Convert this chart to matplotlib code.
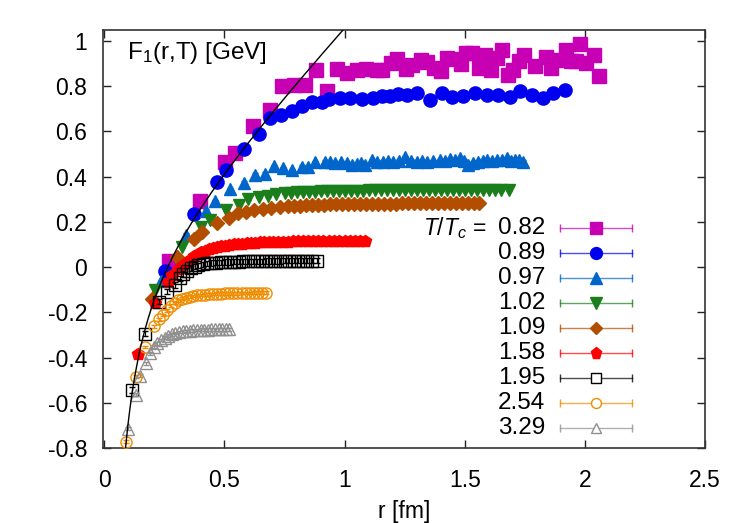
import matplotlib
matplotlib.use("Agg")
import matplotlib.pyplot as plt
import numpy as np
from matplotlib.ticker import FormatStrFormatter

plt.rcParams['font.family'] = ['Liberation Sans', 'DejaVu Sans']
plt.rcParams['mathtext.fontset'] = 'custom'
plt.rcParams['mathtext.rm'] = 'Liberation Sans'
plt.rcParams['mathtext.it'] = 'Liberation Sans:italic'
plt.rcParams['mathtext.default'] = 'regular'

# ---------------- data ----------------
T_labels = ['0.82', '0.89', '0.97', '1.02', '1.09', '1.58', '1.95', '2.54', '3.29']

# T/Tc = 0.82  (r [fm], F1 [GeV]) with errors
r_082 = [0.269, 0.400, 0.504, 0.545, 0.619, 0.690, 0.741, 0.789, 0.835, 0.881,
         0.925, 0.967, 1.008, 1.050, 1.091, 1.133, 1.157, 1.192, 1.220, 1.255,
         1.282, 1.317, 1.345, 1.372, 1.400, 1.428, 1.456, 1.483, 1.504, 1.532,
         1.559, 1.583, 1.608, 1.633, 1.657, 1.680, 1.703, 1.726, 1.747, 1.791,
         1.837, 1.858, 1.878, 1.920, 1.941, 1.962, 1.980, 2.004, 2.038, 2.059]
F_082 = [0.025, 0.290, 0.462, 0.503, 0.621, 0.694, 0.798, 0.805, 0.805, 0.869,
         0.779, 0.874, 0.859, 0.871, 0.874, 0.871, 0.871, 0.901, 0.919, 0.875,
         0.894, 0.913, 0.904, 0.879, 0.868, 0.923, 0.919, 0.898, 0.945, 0.945,
         0.879, 0.938, 0.871, 0.923, 0.957, 0.849, 0.871, 0.908, 0.938, 0.886,
         0.927, 0.879, 0.915, 0.960, 0.908, 0.908, 0.986, 0.901, 0.938, 0.842]
E_082 = [0.006, 0.006, 0.008, 0.008, 0.008, 0.010, 0.010, 0.010, 0.010, 0.020,
         0.020, 0.012, 0.015, 0.012, 0.015, 0.012, 0.012, 0.015, 0.020, 0.015,
         0.012, 0.015, 0.020, 0.015, 0.012, 0.015, 0.020, 0.020, 0.015, 0.015,
         0.020, 0.015, 0.015, 0.020, 0.015, 0.015, 0.015, 0.020, 0.020, 0.020,
         0.015, 0.020, 0.015, 0.020, 0.015, 0.020, 0.020, 0.015, 0.020, 0.025]

# T/Tc = 0.89
r_089 = [0.251, 0.375, 0.469, 0.508, 0.580, 0.645, 0.690, 0.735, 0.780, 0.822,
         0.863, 0.905, 0.936, 0.981, 1.022, 1.071, 1.120, 1.154, 1.189, 1.224,
         1.258, 1.300, 1.355, 1.404, 1.446, 1.494, 1.543, 1.591, 1.640, 1.688,
         1.730, 1.779, 1.827, 1.869, 1.917]
F_089 = [-0.015, 0.234, 0.378, 0.427, 0.521, 0.588, 0.658, 0.672, 0.690, 0.712,
         0.727, 0.731, 0.742, 0.746, 0.746, 0.743, 0.746, 0.757, 0.757, 0.765,
         0.761, 0.771, 0.739, 0.768, 0.751, 0.757, 0.771, 0.761, 0.761, 0.751,
         0.776, 0.761, 0.746, 0.768, 0.783]

# T/Tc = 0.97
pts_097 = [(0.234, -0.063), (0.338, 0.143), (0.425, 0.250), (0.462, 0.290),
           (0.524, 0.344), (0.582, 0.373), (0.626, 0.408), (0.667, 0.413),
           (0.705, 0.445), (0.743, 0.437), (0.780, 0.427), (0.822, 0.444),
           (0.849, 0.444), (0.877, 0.462), (0.918, 0.466), (0.939, 0.462),
           (0.960, 0.459), (0.985, 0.464), (1.009, 0.459), (1.030, 0.452),
           (1.050, 0.456), (1.068, 0.458), (1.085, 0.452), (1.113, 0.471),
           (1.137, 0.466), (1.161, 0.466), (1.182, 0.468), (1.203, 0.462),
           (1.227, 0.470), (1.251, 0.486), (1.276, 0.470), (1.300, 0.466),
           (1.321, 0.468), (1.342, 0.462), (1.370, 0.468), (1.397, 0.471),
           (1.418, 0.470), (1.439, 0.477), (1.460, 0.474), (1.480, 0.481),
           (1.498, 0.470), (1.515, 0.452), (1.536, 0.461), (1.556, 0.466),
           (1.574, 0.470), (1.591, 0.474), (1.612, 0.468), (1.633, 0.471),
           (1.654, 0.474), (1.675, 0.481), (1.692, 0.470), (1.709, 0.474),
           (1.727, 0.472), (1.744, 0.466)]

# T/Tc = 1.02
pts_102 = [(0.213, -0.100), (0.325, 0.090), (0.403, 0.177), (0.439, 0.209),
           (0.508, 0.253), (0.559, 0.275), (0.600, 0.300), (0.642, 0.309),
           (0.680, 0.315), (0.715, 0.322), (0.752, 0.327), (0.775, 0.328),
           (0.800, 0.330), (0.825, 0.331), (0.850, 0.332), (0.875, 0.333),
           (0.900, 0.334), (0.925, 0.335), (0.950, 0.335), (0.975, 0.336),
           (1.000, 0.337), (1.025, 0.337), (1.050, 0.338), (1.075, 0.338),
           (1.100, 0.339), (1.125, 0.339), (1.150, 0.340), (1.175, 0.340),
           (1.200, 0.340), (1.225, 0.341), (1.250, 0.341), (1.275, 0.341),
           (1.300, 0.341), (1.325, 0.341), (1.350, 0.342), (1.375, 0.341),
           (1.400, 0.342), (1.425, 0.342), (1.450, 0.341), (1.475, 0.342),
           (1.500, 0.342), (1.525, 0.342), (1.550, 0.341), (1.575, 0.342),
           (1.600, 0.342), (1.625, 0.342), (1.650, 0.342), (1.685, 0.342)]

# T/Tc = 1.09
pts_109 = [(0.200, -0.141), (0.304, 0.044), (0.372, 0.124), (0.407, 0.157),
           (0.469, 0.197), (0.517, 0.216), (0.555, 0.238), (0.590, 0.245),
           (0.625, 0.252), (0.660, 0.258), (0.695, 0.262), (0.730, 0.265),
           (0.765, 0.268), (0.790, 0.270), (0.815, 0.272), (0.840, 0.273),
           (0.865, 0.274), (0.890, 0.275), (0.915, 0.276), (0.940, 0.277),
           (0.965, 0.277), (0.990, 0.278), (1.015, 0.278), (1.040, 0.279),
           (1.065, 0.279), (1.090, 0.279), (1.115, 0.280), (1.140, 0.280),
           (1.165, 0.280), (1.190, 0.280), (1.215, 0.280), (1.240, 0.281),
           (1.265, 0.281), (1.290, 0.281), (1.315, 0.281), (1.340, 0.281),
           (1.365, 0.281), (1.390, 0.281), (1.415, 0.281), (1.440, 0.281),
           (1.465, 0.281), (1.490, 0.281), (1.515, 0.281), (1.540, 0.281),
           (1.561, 0.281)]

# T/Tc = 1.58
pts_158 = [(0.142, -0.384), (0.211, -0.160), (0.264, -0.064), (0.283, -0.034),
           (0.312, -0.010), (0.329, 0.010), (0.345, 0.024), (0.359, 0.036),
           (0.374, 0.048), (0.389, 0.058), (0.404, 0.066), (0.420, 0.072),
           (0.437, 0.078), (0.453, 0.084), (0.470, 0.088), (0.487, 0.092),
           (0.504, 0.095), (0.521, 0.098), (0.538, 0.100), (0.556, 0.102),
           (0.574, 0.104), (0.592, 0.106), (0.610, 0.107), (0.628, 0.108),
           (0.647, 0.109), (0.666, 0.110), (0.685, 0.111), (0.704, 0.111),
           (0.724, 0.112), (0.744, 0.113), (0.764, 0.113), (0.784, 0.114),
           (0.805, 0.114), (0.826, 0.114), (0.847, 0.115), (0.868, 0.115),
           (0.890, 0.115), (0.912, 0.116), (0.934, 0.116), (0.956, 0.116),
           (0.978, 0.116), (1.000, 0.117), (1.022, 0.117), (1.044, 0.117),
           (1.066, 0.117), (1.084, 0.117)]

# T/Tc = 1.95
pts_195 = [(0.117, -0.542), (0.169, -0.294), (0.227, -0.152), (0.262, -0.108),
           (0.296, -0.078), (0.315, -0.050), (0.329, -0.030), (0.345, -0.016),
           (0.360, -0.006), (0.376, 0.002), (0.392, 0.008), (0.410, 0.012),
           (0.428, 0.016), (0.446, 0.018), (0.465, 0.020), (0.484, 0.021),
           (0.503, 0.022), (0.522, 0.023), (0.541, 0.024), (0.560, 0.024),
           (0.579, 0.025), (0.598, 0.025), (0.617, 0.026), (0.636, 0.026),
           (0.655, 0.026), (0.674, 0.027), (0.693, 0.027), (0.712, 0.027),
           (0.731, 0.027), (0.750, 0.028), (0.769, 0.028), (0.788, 0.028),
           (0.807, 0.028), (0.826, 0.028), (0.845, 0.028), (0.864, 0.028),
           (0.884, 0.028)]

# T/Tc = 2.54
pts_254 = [(0.092, -0.770), (0.133, -0.483), (0.169, -0.353), (0.206, -0.262),
           (0.227, -0.230), (0.246, -0.211), (0.262, -0.190), (0.278, -0.170),
           (0.293, -0.157), (0.308, -0.147), (0.323, -0.140), (0.339, -0.135),
           (0.355, -0.131), (0.371, -0.128), (0.387, -0.125), (0.403, -0.123),
           (0.419, -0.121), (0.435, -0.120), (0.452, -0.119), (0.469, -0.118),
           (0.486, -0.117), (0.503, -0.116), (0.520, -0.116), (0.537, -0.115),
           (0.554, -0.115), (0.571, -0.114), (0.588, -0.114), (0.605, -0.114),
           (0.622, -0.113), (0.639, -0.113), (0.656, -0.113), (0.672, -0.113)]

# T/Tc = 3.29
pts_329 = [(0.100, -0.714), (0.131, -0.564), (0.150, -0.480), (0.172, -0.424),
           (0.190, -0.380), (0.206, -0.352), (0.221, -0.336), (0.236, -0.322),
           (0.251, -0.311), (0.266, -0.302), (0.281, -0.296), (0.296, -0.291),
           (0.311, -0.287), (0.326, -0.284), (0.341, -0.282), (0.356, -0.280),
           (0.371, -0.279), (0.386, -0.278), (0.401, -0.277), (0.416, -0.276),
           (0.431, -0.276), (0.446, -0.275), (0.461, -0.275), (0.476, -0.275),
           (0.491, -0.274), (0.506, -0.274), (0.521, -0.274)]

# symmetric error sizes for the denser series
errs = [None, 0.006, 0.006, 0.005, 0.005, 0.005, 0.012, 0.006, 0.006]

# Cornell-type T=0 potential curve parameters
CORNELL_A = 0.080      # GeV fm
CORNELL_SIGMA = 1.13   # GeV / fm
CORNELL_C = 0.005      # GeV

x_ticks = [0, 0.5, 1, 1.5, 2, 2.5]
y_ticks = [-0.8, -0.6, -0.4, -0.2, 0, 0.2, 0.4, 0.6, 0.8, 1]

# ---------------- style ----------------
colors = ['#c800b4', '#0000f0', '#0066cc', '#1a7f1a', '#b34d00',
          '#ff0000', '#000000', '#f08c00', '#909090']
markers = ['s', 'o', '^', 'v', 'D', 'p', 's', 'o', '^']
msizes = [9.5, 9.5, 9.0, 9.0, 7.0, 9.0, 8.0, 8.0, 8.5]
filled = [True, True, True, True, True, True, False, False, False]
FS = 16.5

W, H = 747, 523
fig = plt.figure(figsize=(W / 100, H / 100), dpi=100)
ax_l, ax_r, ax_t, ax_b = 102.5, 705.0, 30.0, 448.3
ax = fig.add_axes([ax_l / W, 1 - ax_b / H, (ax_r - ax_l) / W, (ax_b - ax_t) / H])

series = [(r_082, F_082, E_082)]
series.append((r_089, F_089, errs[1]))
for pts, e in zip([pts_097, pts_102, pts_109, pts_158, pts_195, pts_254, pts_329],
                  errs[2:]):
    rr, ff = zip(*pts)
    series.append((list(rr), list(ff), e))

for i, (rr, ff, ee) in enumerate(series):
    c = colors[i]
    ax.errorbar(rr, ff, yerr=ee, fmt=markers[i], ms=msizes[i],
                mfc=c if filled[i] else 'none', mec=c, mew=1.0,
                ecolor=c, elinewidth=0.9, capsize=2.5, capthick=0.9,
                zorder=2 + i * 0.1)

# T=0 curve
rc = np.linspace(0.06, 1.1, 400)
ax.plot(rc, -CORNELL_A / rc + CORNELL_SIGMA * rc + CORNELL_C,
        color='black', lw=1.0, zorder=5)

ax.set_xlim(-0.0075, 2.5)
ax.set_ylim(-0.8, 1.047)
ax.set_xticks(x_ticks)
ax.set_yticks(y_ticks)
ax.xaxis.set_major_formatter(FormatStrFormatter('%g'))
ax.yaxis.set_major_formatter(FormatStrFormatter('%g'))
ax.tick_params(direction='in', length=6, width=1, labelsize=FS,
               top=True, right=True, color='#222222')
ax.tick_params(axis='x', pad=15)
ax.tick_params(axis='y', pad=11)
for s in ax.spines.values():
    s.set_linewidth(1.2)
    s.set_color('#333333')

ax.set_xlabel('r [fm]', fontsize=FS, labelpad=6)
ax.text((126.7 - ax_l) / (ax_r - ax_l), (ax_b - 53) / (ax_b - ax_t),
        'F$_1$(r,T) [GeV]', transform=ax.transAxes, fontsize=17.5,
        ha='left', va='center')

# custom legend (gnuplot style)
def fx(px):
    return (px - ax_l) / (ax_r - ax_l)

def fy(py):
    return (ax_b - py) / (ax_b - ax_t)

row0, dy = 228.3, 25.0
ax.text(fx(487), fy(row0), r'$\mathit{T/T_c}$ =', transform=ax.transAxes,
        fontsize=FS, ha='right', va='center')
for i, lab in enumerate(T_labels):
    py = row0 + dy * i
    c = colors[i]
    ax.text(fx(545), fy(py), lab, transform=ax.transAxes, fontsize=17.5,
            ha='right', va='center')
    ax.plot([fx(560), fx(631.7)], [fy(py), fy(py)], transform=ax.transAxes,
            color=c, lw=1.0, alpha=0.7, zorder=6)
    ax.plot([fx(560), fx(631.7)], [fy(py), fy(py)], transform=ax.transAxes,
            color=c, lw=0, marker='|', ms=6, mew=1.0, alpha=0.8, zorder=6)
    ax.plot([fx(596)], [fy(py)], transform=ax.transAxes, lw=0,
            marker=markers[i], ms=msizes[i] * 0.9,
            mfc=c if filled[i] else 'white', mec=c, mew=1.0, zorder=7)

fig.savefig('out.png', dpi=100)
